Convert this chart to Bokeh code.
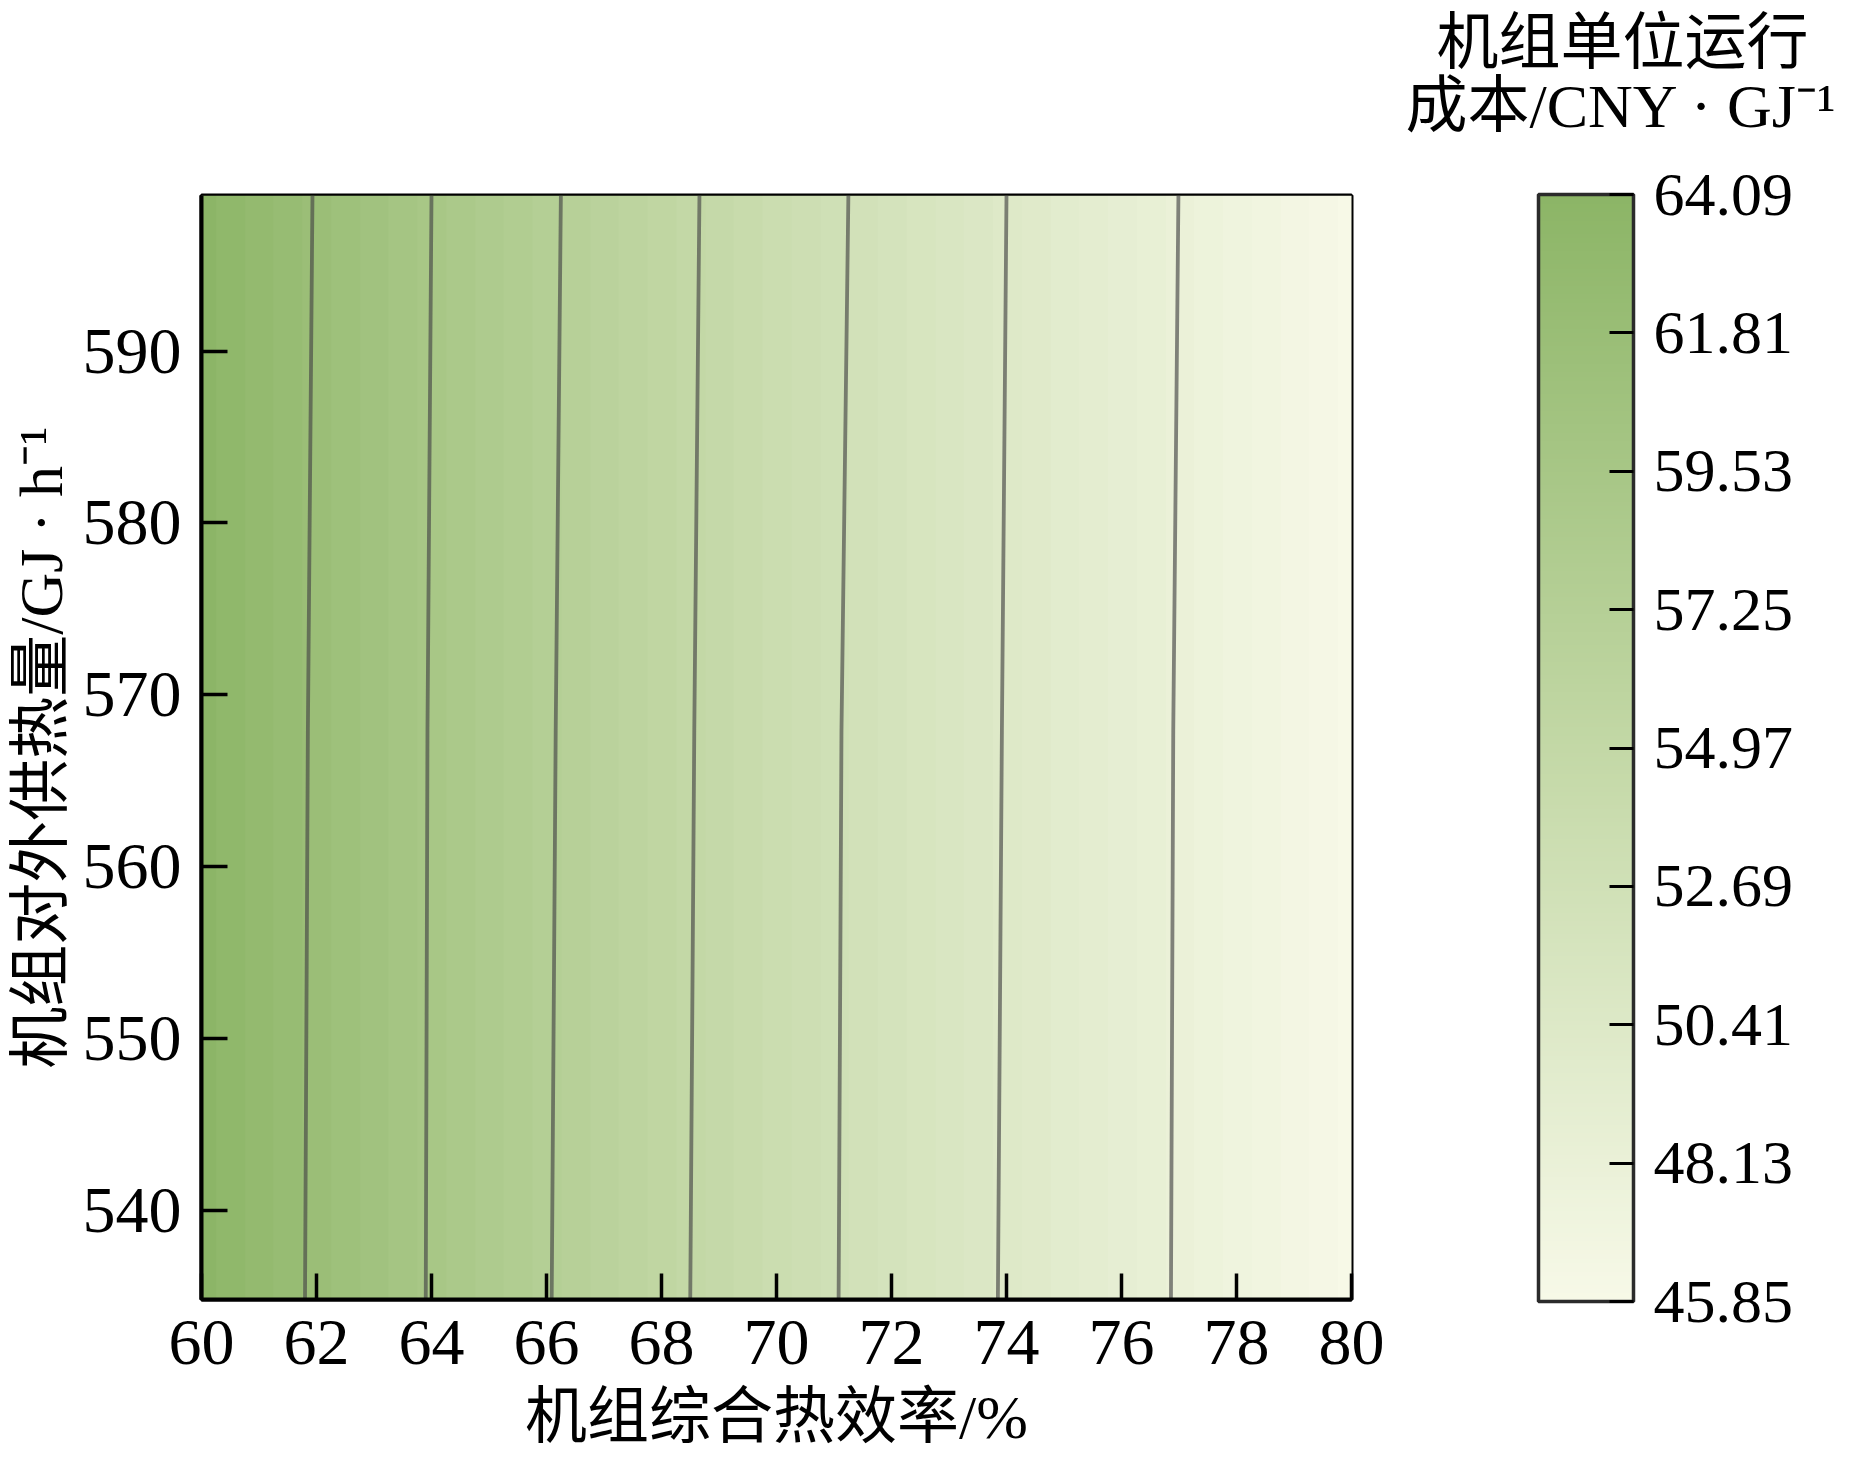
import numpy as np
from bokeh.plotting import figure
from bokeh.models import (LinearColorMapper, ColorBar, FixedTicker,
                          PrintfTickFormatter, Title, Range1d)
from bokeh.embed import file_html
from bokeh.resources import INLINE

# ---------------- data ----------------
eff_grid = [60.0, 60.5, 61.0, 61.5, 62.0, 62.5, 63.0, 63.5, 64.0, 64.5,
            65.0, 65.5, 66.0, 66.5, 67.0, 67.5, 68.0, 68.5, 69.0, 69.5,
            70.0, 70.5, 71.0, 71.5, 72.0, 72.5, 73.0, 73.5, 74.0, 74.5,
            75.0, 75.5, 76.0, 76.5, 77.0, 77.5, 78.0, 78.5, 79.0, 79.5, 80.0]
cost_row = [63.96, 63.37, 62.78, 62.20, 61.64, 61.08, 60.53, 59.99, 59.46, 58.93,
            58.42, 57.91, 57.41, 56.92, 56.43, 55.95, 55.48, 55.02, 54.56, 54.11,
            53.67, 53.23, 52.80, 52.37, 51.95, 51.54, 51.13, 50.73, 50.33, 49.94,
            49.55, 49.17, 48.79, 48.42, 48.05, 47.69, 47.33, 46.98, 46.63, 46.29, 45.95]

contour_levels = [61.81, 59.53, 57.25, 54.97, 52.69, 50.41, 48.13]
contour_eff_bottom = [61.80, 63.90, 66.09, 68.50, 71.08, 73.85, 76.86]
contour_eff_mid = [61.85, 63.93, 66.16, 68.57, 71.13, 73.92, 76.90]
contour_eff_top = [61.93, 64.00, 66.25, 68.66, 71.25, 74.00, 76.99]
contour_heat = [534.8, 567.9, 599.05]

x_ticks = [60, 62, 64, 66, 68, 70, 72, 74, 76, 78, 80]
y_ticks = [540, 550, 560, 570, 580, 590]
cbar_ticks = [45.85, 48.13, 50.41, 52.69, 54.97, 57.25, 59.53, 61.81, 64.09]
cbar_low, cbar_high = 45.85, 64.09
x_lo, x_hi = 60, 80
y_lo, y_hi = 534.8, 599.05

x_title = "机组综合热效率/%"
y_title = "机组对外供热量/GJ · h⁻¹"
cbar_title = "\u2002机组单位运行\n成本/CNY · GJ⁻¹"

# ---------------- style ----------------
FONT = "'Liberation Serif', 'Noto Sans CJK SC'"
anchor_pos = [0.0, 0.5, 1.0]
anchor_rgb = [(247, 249, 232), (195, 216, 166), (140, 181, 102)]
palette = []
for t in np.linspace(0, 1, 256):
    rgb = [int(round(np.interp(t, anchor_pos, [c[k] for c in anchor_rgb]))) for k in range(3)]
    palette.append("#%02x%02x%02x" % tuple(rgb))

mapper = LinearColorMapper(palette=palette, low=cbar_low, high=cbar_high)

p = figure(frame_width=1150, frame_height=1104,
           x_range=Range1d(x_lo, x_hi), y_range=Range1d(y_lo, y_hi),
           output_backend="svg", toolbar_location=None,
           min_border_left=201, min_border_right=496,
           min_border_top=195, min_border_bottom=0)

step = eff_grid[1] - eff_grid[0]
p.image(image=[np.array([cost_row])], x=eff_grid[0] - step / 2, y=y_lo,
        dw=eff_grid[-1] - eff_grid[0] + step, dh=y_hi - y_lo, color_mapper=mapper)

xs = [[b, m, t] for b, m, t in zip(contour_eff_bottom, contour_eff_mid, contour_eff_top)]
ys = [contour_heat for _ in contour_levels]
p.multi_line(xs=xs, ys=ys, line_color="#474747", line_alpha=0.66, line_width=3.8)

p.grid.grid_line_color = None
p.outline_line_color = "black"
p.outline_line_width = 4
p.outline_line_alpha = 1

for ax in (p.xaxis[0], p.yaxis[0]):
    ax.axis_line_color = "black"
    ax.axis_line_width = 4
    ax.major_tick_in = 26
    ax.major_tick_out = 0
    ax.major_tick_line_width = 3.5
    ax.major_tick_line_color = "black"
    ax.minor_tick_line_color = None
    ax.major_label_text_font = FONT
    ax.major_label_text_font_size = "66px"
    ax.major_label_text_color = "black"

p.xaxis.ticker = FixedTicker(ticks=x_ticks)
p.yaxis.ticker = FixedTicker(ticks=y_ticks)
p.xaxis.major_label_standoff = 21
p.yaxis.major_label_standoff = 20
p.xaxis.axis_label = x_title
p.xaxis.axis_label_text_font = FONT
p.xaxis.axis_label_text_font_size = "62px"
p.xaxis.axis_label_text_font_style = "normal"
p.xaxis.axis_label_text_color = "black"
p.xaxis.axis_label_standoff = 16

p.add_layout(Title(text=y_title, align="center", standoff=9,
                   text_font=FONT, text_font_size="62px", text_font_style="normal",
                   text_color="black"), "left")
# spacer between the frame and the colour bar title
p.add_layout(Title(text=" ", text_font_size="1px", standoff=52), "above")
p.add_layout(Title(text=cbar_title, align="left", offset=1204, standoff=0,
                   text_line_height=0.94,
                   text_font=FONT, text_font_size="62px", text_font_style="normal",
                   text_color="black"), "above")

cb = ColorBar(color_mapper=mapper, ticker=FixedTicker(ticks=cbar_ticks),
              formatter=PrintfTickFormatter(format="%.2f"),
              width=95, height=1107, location=(187, -2),
              margin=0, padding=0, label_standoff=20,
              major_tick_in=24, major_tick_out=0,
              major_tick_line_color="black", major_tick_line_width=3,
              minor_tick_line_color=None,
              bar_line_color="#2b2b2b", bar_line_width=3.5,
              border_line_color=None, background_fill_alpha=0,
              major_label_text_font=FONT, major_label_text_font_size="62px",
              major_label_text_color="black")
p.add_layout(cb, "right")

open("out.html", "w").write(file_html(p, INLINE))
